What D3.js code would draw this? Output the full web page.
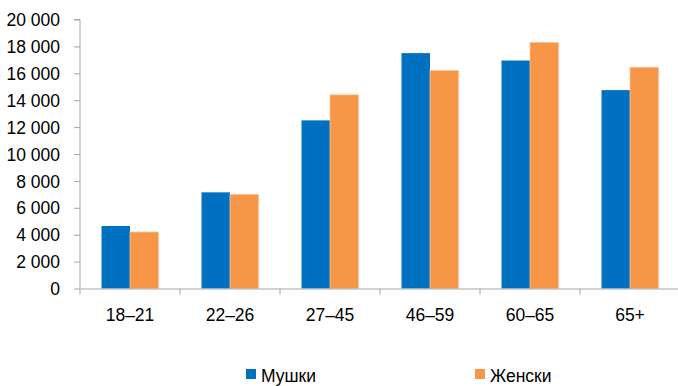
<!DOCTYPE html>
<html><head><meta charset="utf-8">
<script src="https://cdn.jsdelivr.net/npm/d3@7"></script>
<style>body{margin:0;background:#fff}svg{display:block}text{font-family:"Liberation Sans",Arial,sans-serif;fill:#000}</style>
</head><body>
<script>
const categories = ["18–21","22–26","27–45","46–59","60–65","65+"];
const seriesNames = ["Мушки","Женски"];
const men = [4650, 7150, 12500, 17500, 16950, 14750];
const women = [4200, 7000, 14400, 16200, 18300, 16450];
const yTicks = [0,2000,4000,6000,8000,10000,12000,14000,16000,18000,20000];
const colors = ["#0070C0","#F79646"];

const W = 678, H = 386;
const svg = d3.select("body").append("svg").attr("width", W).attr("height", H);
const x = d3.scaleBand().domain(categories).range([80, 680]).paddingInner(0).paddingOuter(0);
const y = d3.scaleLinear().domain([0, 20000]).range([288.5, 19.5]);
const xs = d3.scaleBand().domain(seriesNames).range([21.5, 78.5]);
const fmt = v => d3.format(",")(v).replace(/,/g, " ");

// y axis
const ya = svg.append("g").attr("transform", "translate(80,0)")
  .call(d3.axisLeft(y).tickValues(yTicks).tickSize(6).tickPadding(14).tickFormat(fmt));
ya.select(".domain").attr("stroke", "#a6a6a6").attr("d", `M-6,${y(20000)}H0V${y(0)}`);
ya.selectAll("line").attr("stroke", "#a6a6a6");
ya.selectAll("text").attr("font-size", 17.5).attr("fill", "#000").attr("dy", "0.35em");

// bars
const data = categories.map((c, i) => ({c, vals: [men[i], women[i]]}));
const g = svg.append("g");
data.forEach(d => {
  d.vals.forEach((v, j) => {
    g.append("rect")
      .attr("x", x(d.c) + xs(seriesNames[j]))
      .attr("y", y(v))
      .attr("width", xs.bandwidth())
      .attr("height", y(0) - y(v))
      .attr("fill", colors[j])
      .attr("stroke", j === 1 ? "#fbc39a" : "none")
      .attr("stroke-width", j === 1 ? 0.8 : 0);
  });
});

// x axis
const xa = svg.append("g").attr("transform", `translate(0,${y(0)})`)
  .call(d3.axisBottom(x).tickSize(0).tickPadding(20));
xa.select(".domain").attr("stroke", "#a6a6a6");
xa.selectAll("text").attr("font-size", 17.5).attr("fill", "#000");
svg.append("g").selectAll("line").data(categories.map(c => x(c)).concat([680]))
  .join("line").attr("x1", d => d).attr("x2", d => d)
  .attr("y1", y(0)).attr("y2", y(0) + 6).attr("stroke", "#a6a6a6");

// legend
const lg = svg.append("g");
const lx = [246, 475];
seriesNames.forEach((n, i) => {
  lg.append("rect").attr("x", lx[i]).attr("y", 369).attr("width", 10).attr("height", 10).attr("fill", colors[i]);
  lg.append("text").attr("x", lx[i] + 15).attr("y", 382).attr("font-size", 17.5).text(n);
});
</script>
</body></html>
